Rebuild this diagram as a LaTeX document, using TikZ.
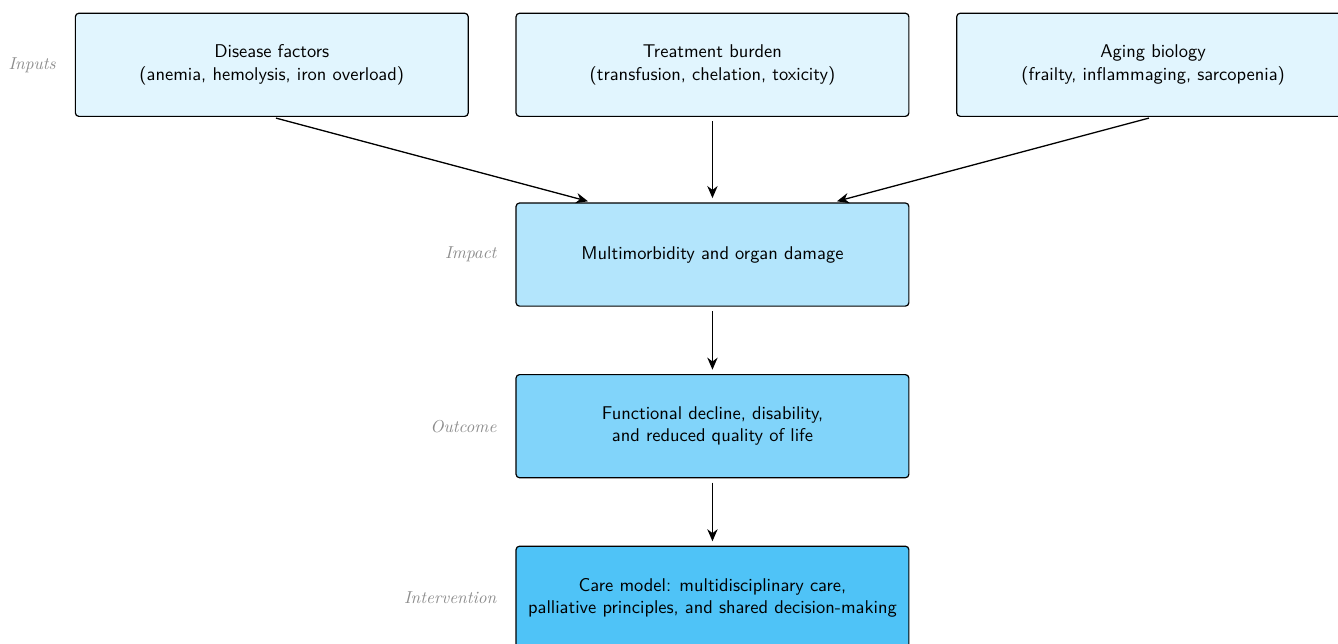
\documentclass[tikz,border=0pt]{standalone}
\usetikzlibrary{arrows.meta, positioning}
\definecolor{lbA}{HTML}{E1F5FE}
\definecolor{lbB}{HTML}{B3E5FC}
\definecolor{lbC}{HTML}{81D4FA}
\definecolor{lbD}{HTML}{4FC3F7}
\begin{document}
\begin{tikzpicture}[font=\sffamily\fontsize{10.7}{13}\selectfont,
    blk/.style={draw, rounded corners=2pt, line width=0.7pt, minimum width=8cm, minimum height=2.1cm, align=center},
    lbl/.style={font=\rmfamily\itshape, text=black!45, inner sep=0pt},
    arr/.style={-{Stealth[length=7pt,width=6pt]}, line width=0.75pt, shorten >=2.5pt, shorten <=2.5pt}]
    \useasboundingbox (0,0) rectangle (27.25,-13.1);
    % inputs row
    \node[blk, fill=lbA] (burden) at (14.51,-1.32) {Treatment burden\\(transfusion, chelation, toxicity)};
    \node[blk, fill=lbA, left=0.95cm of burden] (disease) {Disease factors\\(anemia, hemolysis, iron overload)};
    \node[blk, fill=lbA, right=0.95cm of burden] (aging) {Aging biology\\(frailty, inflammaging, sarcopenia)};
    % chain
    \node[blk, fill=lbB, below=1.74cm of burden] (impact) {Multimorbidity and organ damage};
    \node[blk, fill=lbC, below=1.37cm of impact] (outcome) {Functional decline, disability,\\and reduced quality of life};
    \node[blk, fill=lbD, below=1.37cm of outcome] (care) {Care model: multidisciplinary care,\\palliative principles, and shared decision-making};
    % side labels
    \node[lbl, left=0.38cm of disease] {Inputs};
    \node[lbl, left=0.38cm of impact] {Impact};
    \node[lbl, left=0.38cm of outcome] {Outcome};
    \node[lbl, left=0.38cm of care] {Intervention};
    % arrows
    \draw[arr] (disease.south) -- ([xshift=-2.45cm]impact.north);
    \draw[arr] (burden.south) -- (impact.north);
    \draw[arr] (aging.south) -- ([xshift=2.45cm]impact.north);
    \draw[arr] (impact) -- (outcome);
    \draw[arr] (outcome) -- (care);
\end{tikzpicture}
\end{document}
